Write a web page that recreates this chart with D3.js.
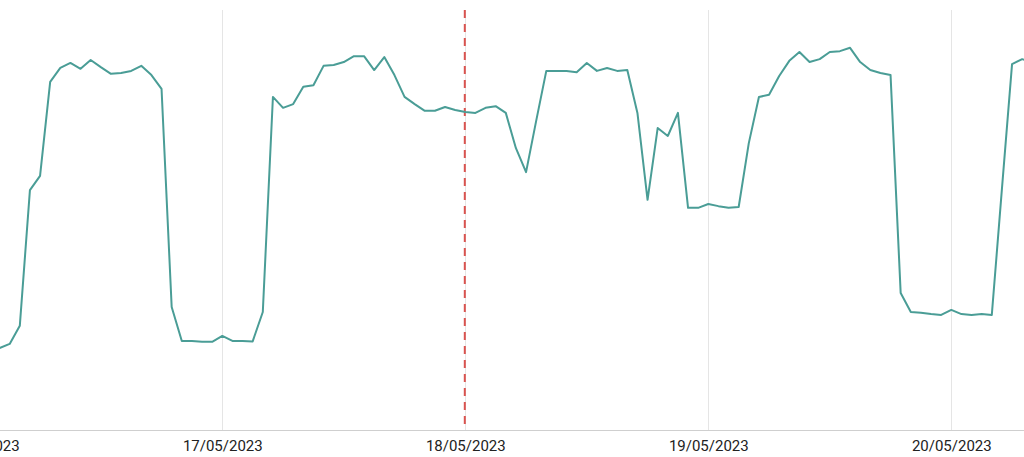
<!DOCTYPE html>
<html>
<head>
<meta charset="utf-8">
<script src="https://cdn.jsdelivr.net/npm/d3@7"></script>
<style>
  html, body { margin: 0; padding: 0; background: #fff; }
  svg { display: block; }
</style>
</head>
<body>
<svg id="chart" width="1024" height="457"></svg>
<script>
// Hourly readings starting 16/05/2023 02:00
const startTime = "2023-05-16T02:00:00";
const values = [
  19.5, 20.5, 24.8, 57.1, 60.5, 82.9, 86.2, 87.4, 86.0, 88.1, 86.4, 84.8, 85.0, 85.5, 86.7, 84.5, 81.2,
  29.3, 21.2, 21.2, 21.0, 21.0, 22.4, 21.2, 21.2, 21.1, 28.1,
  79.3, 76.7, 77.6, 81.7, 82.1, 86.7, 86.9, 87.6, 89.0, 89.0, 85.7, 88.8, 84.5, 79.3, 77.6, 76.0, 76.0, 76.9, 76.2, 75.7,
  75.5, 76.7, 77.1, 75.5, 67.1, 61.4, 73.6, 85.5, 85.5, 85.5, 85.2, 87.4, 85.5, 86.2, 85.5, 85.7,
  75.5, 54.8, 71.9, 70.0, 75.5, 52.9, 52.9, 53.8, 53.3, 52.9, 53.1, 68.3, 79.3, 79.8, 84.3, 87.9, 90.0, 87.6, 88.3, 90.0, 90.2, 91.0, 87.6, 85.7, 85.0, 84.5,
  32.6, 28.1, 27.9, 27.6, 27.4, 28.6, 27.6, 27.4, 27.6, 27.4, 57.4, 87.1, 88.3, 87.6
];
const dayTicks = ["2023-05-16", "2023-05-17", "2023-05-18", "2023-05-19", "2023-05-20"];
const markerDate = "2023-05-18";

const W = 1024, H = 457;
const plotTop = 10, plotBottom = 430;

const parse = d3.timeParse("%Y-%m-%dT%H:%M:%S");
const parseDay = d3.timeParse("%Y-%m-%d");
const t0 = parse(startTime);
const data = values.map((v, i) => ({ t: d3.timeHour.offset(t0, i), v }));

const x = d3.scaleTime()
  .domain([parseDay("2023-05-16"), parseDay("2023-05-21")])
  .range([-20.7, -20.7 + 243 * 5]);
const y = d3.scaleLinear().domain([0, 100]).range([plotBottom, plotTop]);

const svg = d3.select("#chart");

svg.append("defs").append("clipPath").attr("id", "clip")
  .append("rect").attr("x", 0).attr("y", 0).attr("width", W).attr("height", plotBottom);

// vertical gridlines
svg.append("g").selectAll("line")
  .data(dayTicks.map(parseDay))
  .join("line")
  .attr("x1", d => x(d)).attr("x2", d => x(d))
  .attr("y1", plotTop).attr("y2", plotBottom)
  .attr("stroke", "#e5e5e5").attr("stroke-width", 1)
  .attr("shape-rendering", "crispEdges");

// x axis
const xAxis = d3.axisBottom(x)
  .tickValues(dayTicks.map(parseDay))
  .tickFormat(d3.timeFormat("%d/%m/%Y"))
  .tickSize(0).tickPadding(10);
const gx = svg.append("g").attr("transform", `translate(0,${plotBottom})`).call(xAxis);
gx.select(".domain").remove();
gx.selectAll("text")
  .attr("font-family", "Roboto, sans-serif")
  .attr("font-size", 15)
  .attr("fill", "#222");
svg.append("line")
  .attr("x1", 0).attr("x2", W).attr("y1", plotBottom + 0.5).attr("y2", plotBottom + 0.5)
  .attr("stroke", "#cfcfcf").attr("stroke-width", 1);

// marker dashed line
svg.append("line")
  .attr("x1", x(parseDay(markerDate)) - 0.5).attr("x2", x(parseDay(markerDate)) - 0.5)
  .attr("y1", plotTop).attr("y2", plotBottom)
  .attr("stroke", "#d9534f").attr("stroke-width", 2)
  .attr("stroke-dasharray", "8,6");

// series line
const line = d3.line().x(d => x(d.t)).y(d => y(d.v));
svg.append("path")
  .datum(data)
  .attr("clip-path", "url(#clip)")
  .attr("fill", "none")
  .attr("stroke", "#4a9d96")
  .attr("stroke-width", 2)
  .attr("stroke-linejoin", "round")
  .attr("d", line);
</script>
</body>
</html>
